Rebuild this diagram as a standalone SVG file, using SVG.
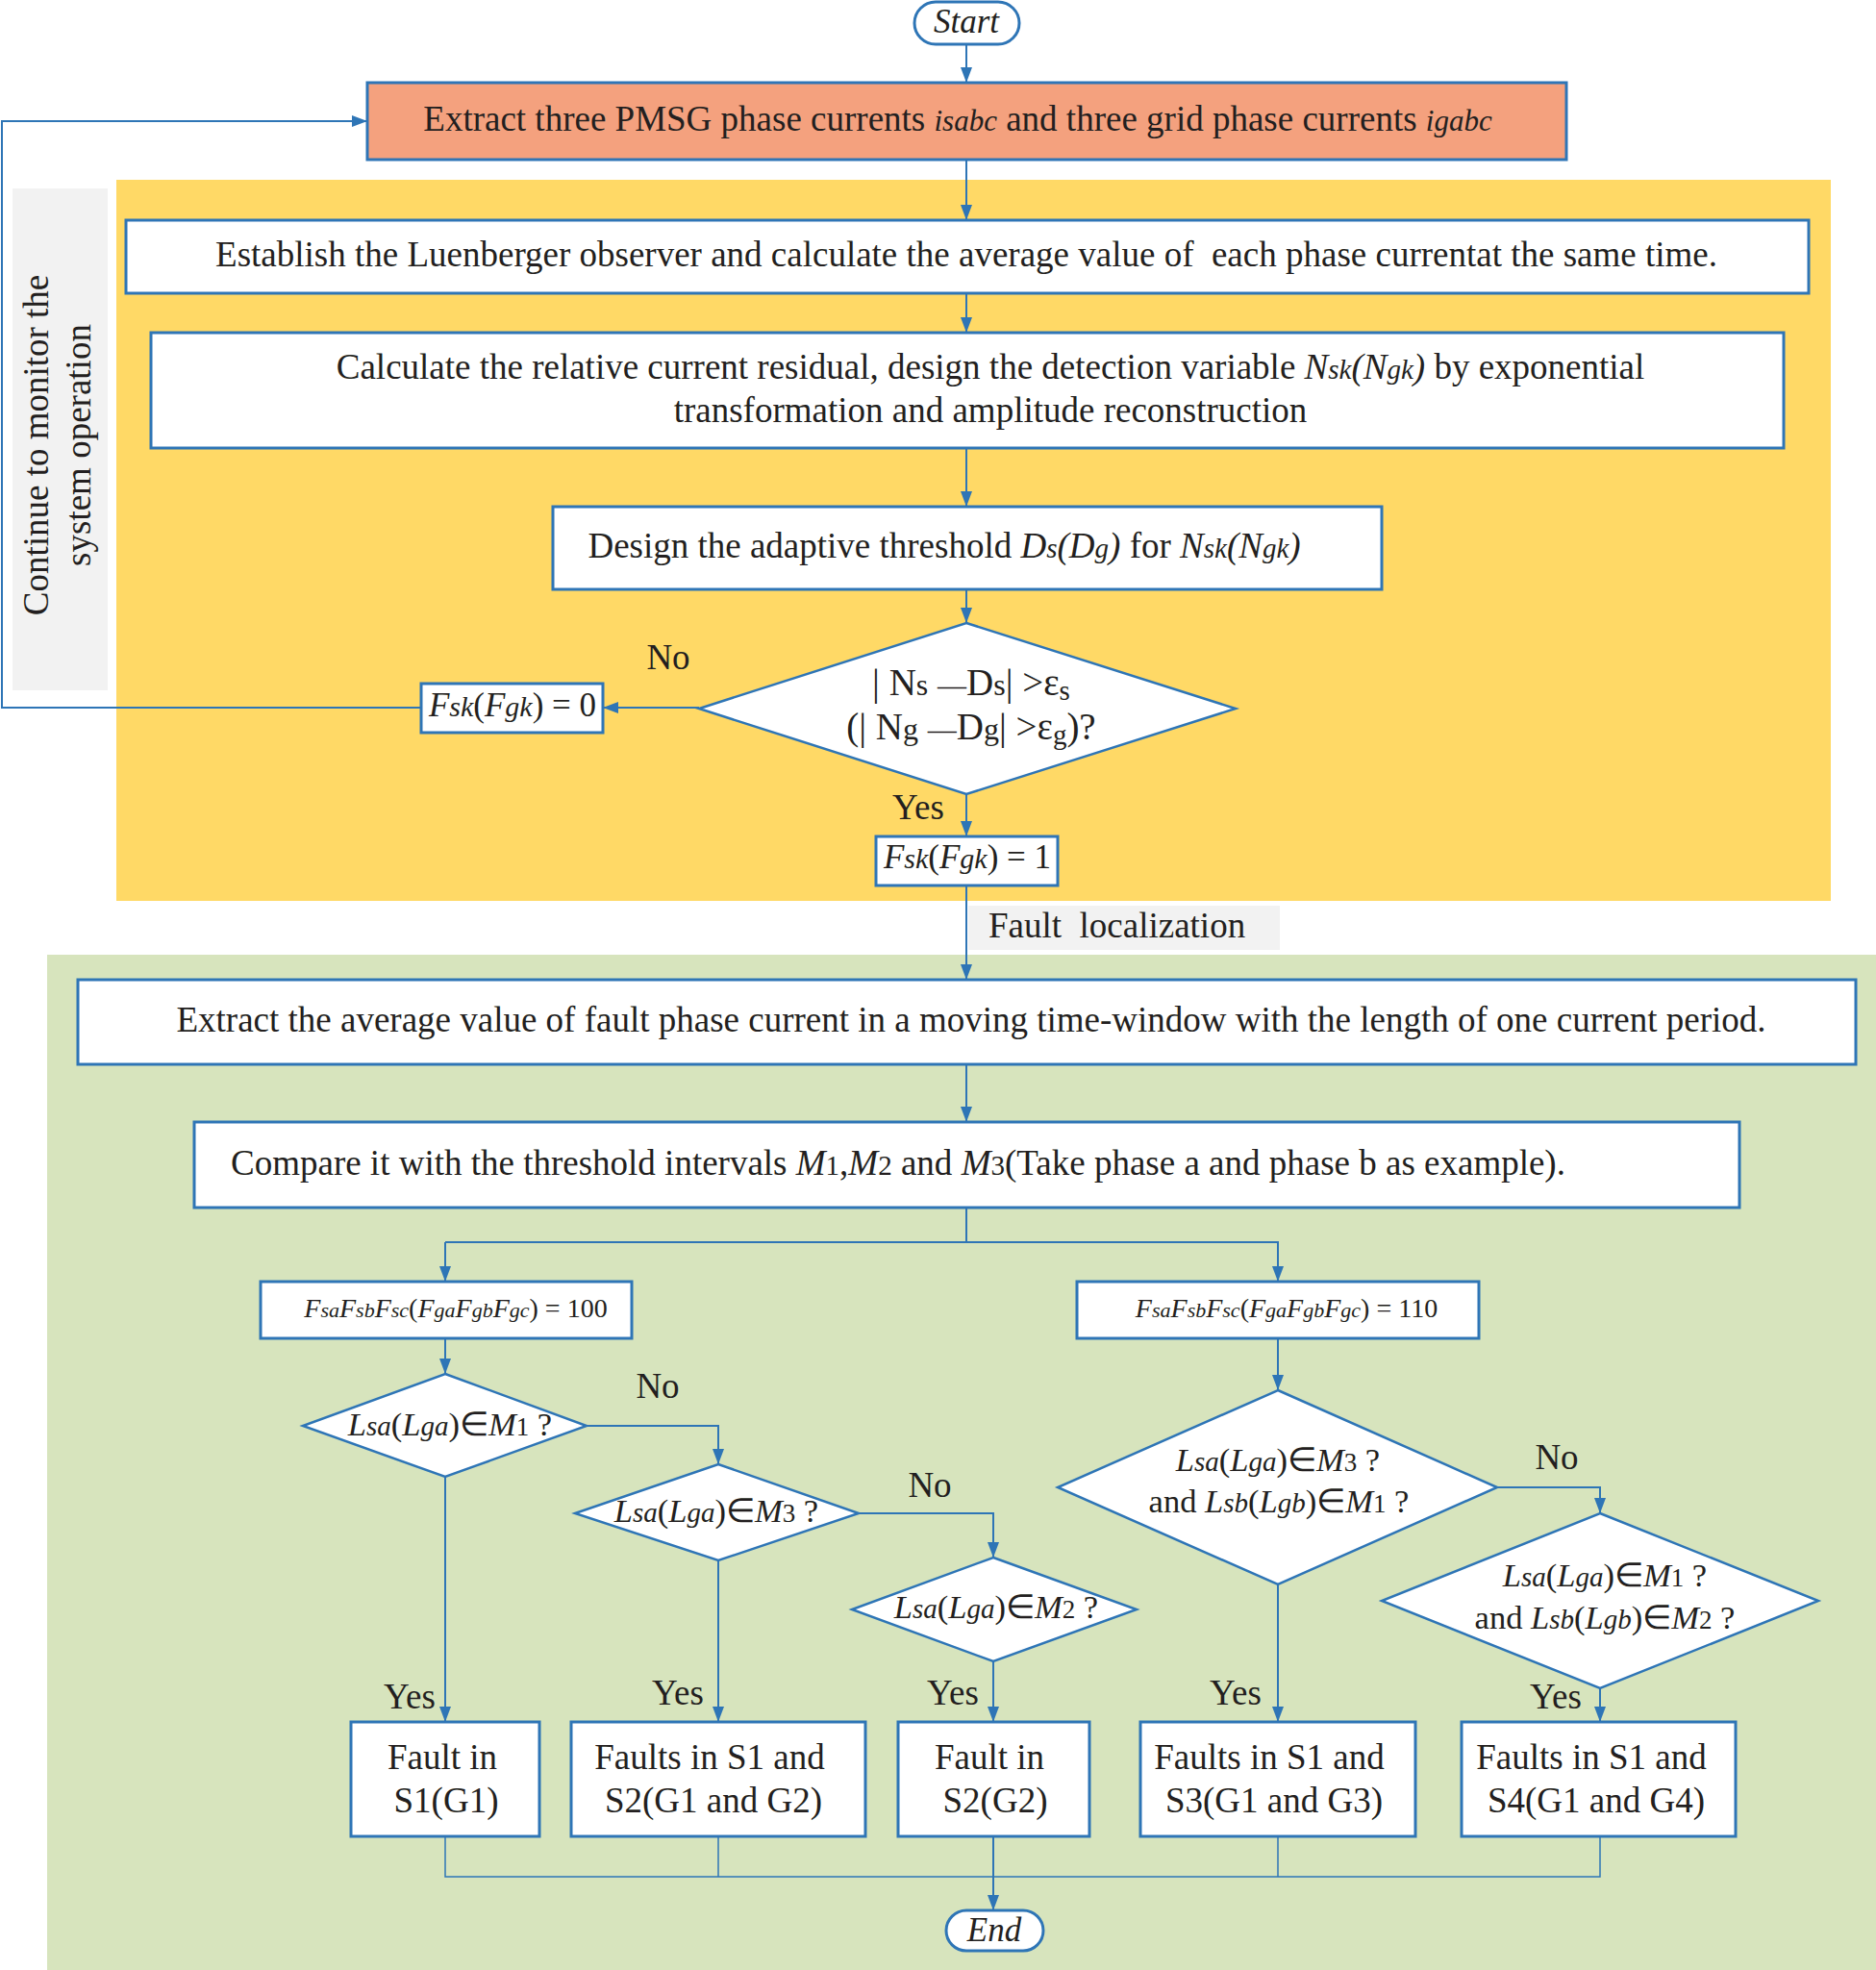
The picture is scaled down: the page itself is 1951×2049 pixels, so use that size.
<svg xmlns="http://www.w3.org/2000/svg" width="1951" height="2049" viewBox="0 0 1951 2049">
<style>
text{font-family:"Liberation Serif","Times New Roman",serif;fill:#231F20;font-size:37px}
.c{text-anchor:middle}
.i{font-style:italic}
.box{fill:#FFFFFF;stroke:#2E75B6;stroke-width:3}
.ln{fill:none;stroke:#2E75B6;stroke-width:2}
.lt{fill:none;stroke:#2E75B6;stroke-width:1.5}
.sm{font-size:28px}
.dm{font-size:34.5px}
.dash{font-size:30px}
</style>
<defs>
<marker id="ah" markerUnits="userSpaceOnUse" markerWidth="16" markerHeight="12" refX="16" refY="6" orient="auto">
<path d="M0,0 L16,6 L0,12 Z" fill="#2E75B6"/>
</marker>
</defs>
<rect x="0" y="0" width="1951" height="2049" fill="#FFFFFF"/>
<g id="bg">
<rect x="121" y="187" width="1783" height="750" fill="#FFD966"/>
<rect x="49" y="993" width="1902" height="1056" fill="#D7E4BD"/>
</g>
<g id="monitor-label">
<rect x="13" y="196" width="99" height="522" fill="#F2F2F2"/>
<text class="c" transform="translate(50,463) rotate(-90)">Continue to monitor the</text>
<text class="c" transform="translate(94,463) rotate(-90)">system operation</text>
</g>
<g id="connectors">
<line class="ln" x1="1005" y1="46" x2="1005" y2="86" marker-end="url(#ah)"/>
<line class="ln" x1="1005" y1="166" x2="1005" y2="229" marker-end="url(#ah)"/>
<line class="ln" x1="1005" y1="305" x2="1005" y2="346" marker-end="url(#ah)"/>
<line class="ln" x1="1005" y1="466" x2="1005" y2="527" marker-end="url(#ah)"/>
<line class="ln" x1="1005" y1="613" x2="1005" y2="648" marker-end="url(#ah)"/>
<line class="ln" x1="727" y1="736" x2="627" y2="736" marker-end="url(#ah)"/>
<polyline class="ln" points="438,736 2,736 2,126 382,126" marker-end="url(#ah)"/>
<line class="ln" x1="1005" y1="826" x2="1005" y2="870" marker-end="url(#ah)"/>
<line class="ln" x1="1005" y1="921" x2="1005" y2="1019" marker-end="url(#ah)"/>
<line class="ln" x1="1005" y1="1107" x2="1005" y2="1167" marker-end="url(#ah)"/>
<polyline class="ln" points="1005,1256 1005,1292"/>
<polyline class="ln" points="463,1292 1329,1292 1329,1333" marker-end="url(#ah)"/>
<line class="ln" x1="463" y1="1292" x2="463" y2="1333" marker-end="url(#ah)"/>
<line class="ln" x1="463" y1="1392" x2="463" y2="1429" marker-end="url(#ah)"/>
<line class="ln" x1="1329" y1="1392" x2="1329" y2="1446" marker-end="url(#ah)"/>
<polyline class="ln" points="610,1483 747,1483 747,1523" marker-end="url(#ah)"/>
<polyline class="ln" points="893,1574 1033,1574 1033,1620" marker-end="url(#ah)"/>
<polyline class="ln" points="1557,1547 1664,1547 1664,1574" marker-end="url(#ah)"/>
<line class="ln" x1="463" y1="1536" x2="463" y2="1791" marker-end="url(#ah)"/>
<line class="ln" x1="747" y1="1623" x2="747" y2="1791" marker-end="url(#ah)"/>
<line class="ln" x1="1033" y1="1728" x2="1033" y2="1791" marker-end="url(#ah)"/>
<line class="ln" x1="1329" y1="1648" x2="1329" y2="1791" marker-end="url(#ah)"/>
<line class="ln" x1="1664" y1="1756" x2="1664" y2="1791" marker-end="url(#ah)"/>
<polyline class="lt" points="463,1910 463,1952 1664,1952 1664,1910"/>
<line class="lt" x1="747" y1="1910" x2="747" y2="1952"/>
<line class="lt" x1="1329" y1="1910" x2="1329" y2="1952"/>
<line class="ln" x1="1033" y1="1910" x2="1033" y2="1987" marker-end="url(#ah)"/>
</g>
<g id="start">
<rect class="box" x="951" y="2" width="109" height="44" rx="22" ry="22"/>
<text class="c i" x="1005" y="34" style="font-size:35px">Start</text>
</g>
<g id="extract-currents">
<rect x="382" y="86" width="1247" height="80" fill="#F4A17E" stroke="#2E75B6" stroke-width="3"/>
<text class="c" x="996" y="136">Extract three PMSG phase currents <tspan class="i" style="font-size:31px">isabc</tspan> and three grid phase currents <tspan class="i" style="font-size:31px">igabc</tspan></text>
</g>
<g id="observer">
<rect class="box" x="131" y="229" width="1750" height="76"/>
<text class="c" x="1005" y="277" xml:space="preserve">Establish the Luenberger observer and calculate the average value of  each phase currentat the same time.</text>
</g>
<g id="residual">
<rect class="box" x="157" y="346" width="1698" height="120"/>
<text class="c" x="1030" y="394">Calculate the relative current residual, design the detection variable <tspan class="i">N<tspan style="font-size:29px">sk</tspan>(N<tspan style="font-size:29px">gk</tspan>)</tspan> by exponential</text>
<text class="c" x="1030" y="439">transformation and amplitude reconstruction</text>
</g>
<g id="threshold">
<rect class="box" x="575" y="527" width="862" height="86"/>
<text class="c" x="982" y="580">Design the adaptive threshold <tspan class="i">D<tspan style="font-size:29px">s</tspan>(D<tspan style="font-size:29px">g</tspan>)</tspan> for <tspan class="i">N<tspan style="font-size:29px">sk</tspan>(N<tspan style="font-size:29px">gk</tspan>)</tspan></text>
</g>
<g id="detect-decision">
<polygon points="1005,648 1285,737 1005,826 727,737" fill="#FFFFFF" stroke="#2E75B6" stroke-width="2.5"/>
<text class="c" x="1010" y="723" style="font-size:39px" xml:space="preserve">| N<tspan style="font-size:32px">s</tspan> <tspan class="dash">—</tspan>D<tspan style="font-size:32px">s</tspan>| &gt;ε<tspan style="font-size:29px" dy="5">s</tspan></text>
<text class="c" x="1010" y="769" style="font-size:39px" xml:space="preserve">(| N<tspan style="font-size:32px">g</tspan> <tspan class="dash">—</tspan>D<tspan style="font-size:32px">g</tspan>| &gt;ε<tspan style="font-size:29px" dy="5">g</tspan><tspan dy="-5">)?</tspan></text>
<text class="c" x="695" y="696">No</text>
<text class="c" x="955" y="852">Yes</text>
</g>
<g id="flag-zero">
<rect class="box" x="438" y="711" width="189" height="51"/>
<text class="c" x="533" y="745" style="font-size:35px"><tspan class="i">F</tspan><tspan class="i" style="font-size:30px">sk</tspan>(<tspan class="i">F</tspan><tspan class="i" style="font-size:30px">gk</tspan>) = 0</text>
</g>
<g id="flag-one">
<rect class="box" x="911" y="870" width="189" height="51"/>
<text class="c" x="1006" y="903" style="font-size:35px"><tspan class="i">F</tspan><tspan class="i" style="font-size:30px">sk</tspan>(<tspan class="i">F</tspan><tspan class="i" style="font-size:30px">gk</tspan>) = 1</text>
</g>
<g id="fault-localization-label">
<rect x="1007" y="942" width="324" height="46" fill="#F2F2F2"/>
<text x="1028" y="975" xml:space="preserve">Fault  localization</text>
</g>
<g id="moving-window">
<rect class="box" x="81" y="1019" width="1849" height="88"/>
<text class="c" x="1010" y="1073">Extract the average value of fault phase current in a moving time-window with the length of one current period.</text>
</g>
<g id="compare">
<rect class="box" x="202" y="1167" width="1607" height="89"/>
<text x="240" y="1222">Compare it with the threshold intervals <tspan class="i">M</tspan><tspan style="font-size:29px">1</tspan>,<tspan class="i">M</tspan><tspan style="font-size:29px">2</tspan> and <tspan class="i">M</tspan><tspan style="font-size:29px">3</tspan>(Take phase a and phase b as example).</text>
</g>
<g id="code-100">
<rect class="box" x="271" y="1333" width="386" height="59"/>
<text class="c i sm" x="474" y="1370">F<tspan style="font-size:22px">sa</tspan>F<tspan style="font-size:22px">sb</tspan>F<tspan style="font-size:22px">sc</tspan><tspan font-style="normal">(</tspan>F<tspan style="font-size:22px">ga</tspan>F<tspan style="font-size:22px">gb</tspan>F<tspan style="font-size:22px">gc</tspan><tspan font-style="normal">) = 100</tspan></text>
</g>
<g id="code-110">
<rect class="box" x="1120" y="1333" width="418" height="59"/>
<text class="c i sm" x="1338" y="1370">F<tspan style="font-size:22px">sa</tspan>F<tspan style="font-size:22px">sb</tspan>F<tspan style="font-size:22px">sc</tspan><tspan font-style="normal">(</tspan>F<tspan style="font-size:22px">ga</tspan>F<tspan style="font-size:22px">gb</tspan>F<tspan style="font-size:22px">gc</tspan><tspan font-style="normal">) = 110</tspan></text>
</g>
<g id="dec-m1">
<polygon points="463,1429 610,1483 463,1536 315,1483" fill="#FFFFFF" stroke="#2E75B6" stroke-width="2.5"/>
<text class="c dm" x="468" y="1493"><tspan class="i">L</tspan><tspan class="i" style="font-size:29px">sa</tspan>(<tspan class="i">L</tspan><tspan class="i" style="font-size:29px">ga</tspan>)∈<tspan class="i">M</tspan><tspan style="font-size:27px">1</tspan> ?</text>
<text class="c" x="684" y="1454">No</text>
<text class="c" x="426" y="1777">Yes</text>
</g>
<g id="dec-m3">
<polygon points="747,1523 893,1574 747,1623 598,1574" fill="#FFFFFF" stroke="#2E75B6" stroke-width="2.5"/>
<text class="c dm" x="745" y="1583"><tspan class="i">L</tspan><tspan class="i" style="font-size:29px">sa</tspan>(<tspan class="i">L</tspan><tspan class="i" style="font-size:29px">ga</tspan>)∈<tspan class="i">M</tspan><tspan style="font-size:27px">3</tspan> ?</text>
<text class="c" x="967" y="1557">No</text>
<text class="c" x="705" y="1773">Yes</text>
</g>
<g id="dec-m2">
<polygon points="1033,1620 1182,1674 1033,1728 886,1674" fill="#FFFFFF" stroke="#2E75B6" stroke-width="2.5"/>
<text class="c dm" x="1036" y="1683"><tspan class="i">L</tspan><tspan class="i" style="font-size:29px">sa</tspan>(<tspan class="i">L</tspan><tspan class="i" style="font-size:29px">ga</tspan>)∈<tspan class="i">M</tspan><tspan style="font-size:27px">2</tspan> ?</text>
<text class="c" x="991" y="1773">Yes</text>
</g>
<g id="dec-m3-m1">
<polygon points="1329,1446 1557,1547 1329,1648 1100,1547" fill="#FFFFFF" stroke="#2E75B6" stroke-width="2.5"/>
<text class="c dm" x="1329" y="1530"><tspan class="i">L</tspan><tspan class="i" style="font-size:29px">sa</tspan>(<tspan class="i">L</tspan><tspan class="i" style="font-size:29px">ga</tspan>)∈<tspan class="i">M</tspan><tspan style="font-size:27px">3</tspan> ?</text>
<text class="c dm" x="1330" y="1573">and <tspan class="i">L</tspan><tspan class="i" style="font-size:29px">sb</tspan>(<tspan class="i">L</tspan><tspan class="i" style="font-size:29px">gb</tspan>)∈<tspan class="i">M</tspan><tspan style="font-size:27px">1</tspan> ?</text>
<text class="c" x="1619" y="1528">No</text>
<text class="c" x="1285" y="1773">Yes</text>
</g>
<g id="dec-m1-m2">
<polygon points="1664,1574 1891,1665 1664,1756 1437,1665" fill="#FFFFFF" stroke="#2E75B6" stroke-width="2.5"/>
<text class="c dm" x="1669" y="1650"><tspan class="i">L</tspan><tspan class="i" style="font-size:29px">sa</tspan>(<tspan class="i">L</tspan><tspan class="i" style="font-size:29px">ga</tspan>)∈<tspan class="i">M</tspan><tspan style="font-size:27px">1</tspan> ?</text>
<text class="c dm" x="1669" y="1694">and <tspan class="i">L</tspan><tspan class="i" style="font-size:29px">sb</tspan>(<tspan class="i">L</tspan><tspan class="i" style="font-size:29px">gb</tspan>)∈<tspan class="i">M</tspan><tspan style="font-size:27px">2</tspan> ?</text>
<text class="c" x="1618" y="1777">Yes</text>
</g>
<g id="res-s1">
<rect class="box" x="365" y="1791" width="196" height="119"/>
<text class="c" x="460" y="1840">Fault in</text>
<text class="c" x="464" y="1885">S1(G1)</text>
</g>
<g id="res-s1s2">
<rect class="box" x="594" y="1791" width="306" height="119"/>
<text class="c" x="738" y="1840">Faults in S1 and</text>
<text class="c" x="742" y="1885">S2(G1 and G2)</text>
</g>
<g id="res-s2">
<rect class="box" x="934" y="1791" width="199" height="119"/>
<text class="c" x="1029" y="1840">Fault in</text>
<text class="c" x="1035" y="1885">S2(G2)</text>
</g>
<g id="res-s1s3">
<rect class="box" x="1186" y="1791" width="286" height="119"/>
<text class="c" x="1320" y="1840">Faults in S1 and</text>
<text class="c" x="1325" y="1885">S3(G1 and G3)</text>
</g>
<g id="res-s1s4">
<rect class="box" x="1520" y="1791" width="285" height="119"/>
<text class="c" x="1655" y="1840">Faults in S1 and</text>
<text class="c" x="1660" y="1885">S4(G1 and G4)</text>
</g>
<g id="end">
<rect class="box" x="984" y="1987" width="101" height="42" rx="21" ry="21"/>
<text class="c i" x="1034" y="2019" style="font-size:35px">End</text>
</g>
</svg>
